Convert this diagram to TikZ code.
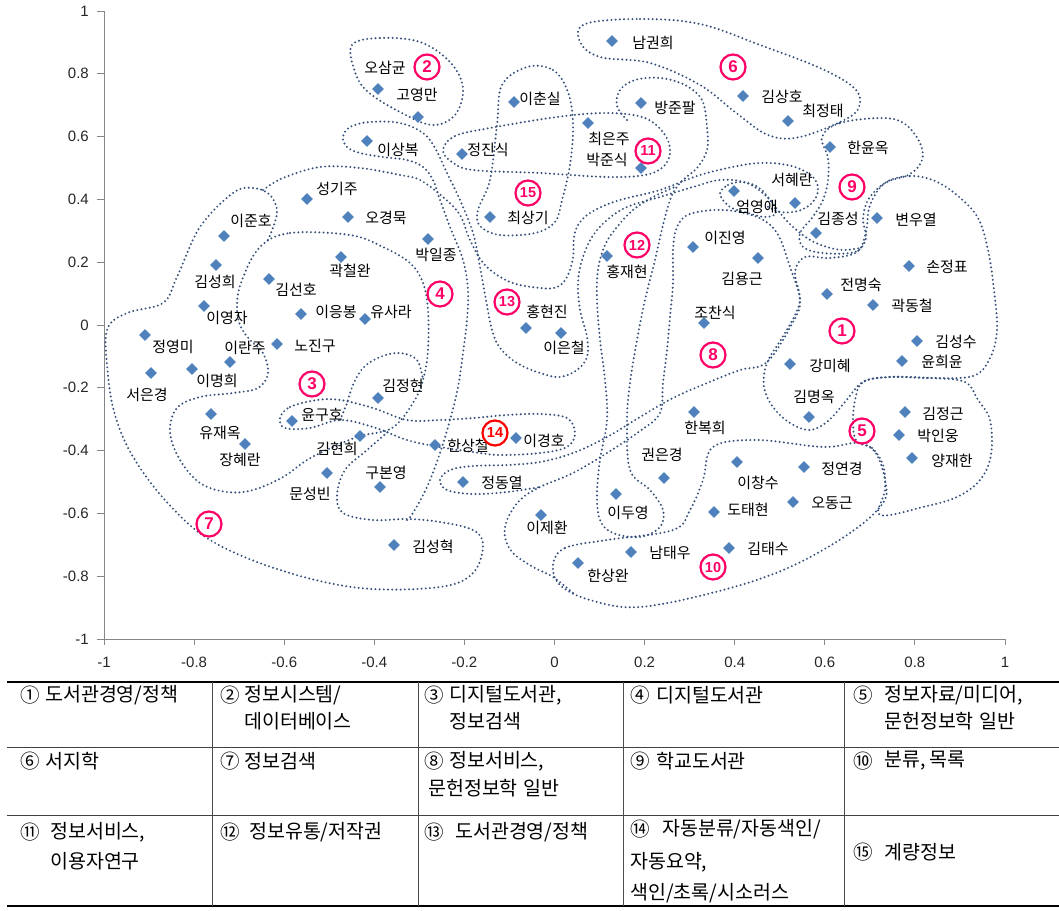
\documentclass[tikz,border=0pt]{standalone}
\usepackage{fontspec}
\setmainfont{Liberation Sans}
\newfontfamily\kr{Noto Sans CJK KR}
\usetikzlibrary{shapes.geometric}
\definecolor{dmc}{HTML}{4F81BD}
\definecolor{dotc}{HTML}{35507A}
\definecolor{rlc}{HTML}{FF0066}
\definecolor{axc}{HTML}{868686}
\tikzset{
 dmd/.style={diamond, fill=dmc, inner sep=0pt, minimum width=12pt, minimum height=12pt},
 lbl/.style={font=\kr\fontsize{15}{15}\selectfont, inner sep=0pt},
 rgn/.style={draw=dotc, line width=2.2pt, dash pattern=on 0pt off 4.2pt, line cap=round},
 rlab/.style={circle, draw=rlc, line width=2.2pt, text=rlc, minimum size=25pt, inner sep=0pt, font=\bfseries\fontsize{17}{17}\selectfont},
 rlabb/.style={rlab, font=\bfseries\fontsize{14.5}{14.5}\selectfont},
 ticklab/.style={font=\fontsize{15}{15}\selectfont, inner sep=0pt, text=black!85},
 cell/.style={font=\kr\fontsize{19.5}{26}\selectfont, anchor=west, inner sep=0pt},
}
\begin{document}
\begin{tikzpicture}[x=1pt,y=-1pt]
\useasboundingbox (0,0) rectangle (1059,910);
% axes
\draw[axc, line width=1pt] (104,11) -- (104,639) -- (1005,639);
\foreach \v/\yy in {1/11,0.8/73.8,0.6/136.6,0.4/199.4,0.2/262.2,0/325,-0.2/387.8,-0.4/450.6,-0.6/513.4,-0.8/576.2,-1/639}{
  \draw[axc, line width=1pt] (97,\yy) -- (104,\yy);
  \node[ticklab, anchor=east] (ya\v) at (89,\yy) {\v};
}
\foreach \v/\xx in {-1/104,-0.8/194.1,-0.6/284.2,-0.4/374.3,-0.2/464.4,0/554.5,0.2/644.6,0.4/734.7,0.6/824.8,0.8/914.9,1/1005}{
  \draw[axc, line width=1pt] (\xx,639) -- (\xx,645);
  \node[ticklab] (xa\v) at (\xx,662) {\v};
}
% region outlines
\draw[rgn] plot[smooth cycle, tension=0.6] coordinates {(352,45) (380,38) (420,42) (450,62) (463,88) (455,115) (432,125) (400,112) (368,92) (355,72)};
\draw[rgn] plot[smooth cycle, tension=0.6] coordinates {(585,24) (640,19) (700,24) (760,45) (820,68) (853,87) (860,103) (848,118) (800,137) (768,135) (735,112) (700,85) (650,63) (600,57) (580,42)};
\draw[rgn] plot[smooth cycle, tension=0.6] coordinates {(527,67) (553,70) (568,92) (573,125) (570,165) (562,200) (555,222) (535,233) (500,235) (480,226) (478,210) (490,180) (497,125) (502,85)};
\draw[rgn] plot[smooth cycle, tension=0.6] coordinates {(443,150) (455,136) (490,128) (557,117) (607,113) (645,118) (665,135) (670,153) (663,167) (645,175) (607,177) (540,173) (473,170) (452,162)};
\draw[rgn] plot[smooth cycle, tension=0.6] coordinates {(822,137) (840,123) (883,118) (905,124) (920,143) (922,160) (910,174) (885,183) (868,200) (863,220) (866,238) (855,252) (823,253) (803,247) (800,233) (812,218) (823,200) (828,180) (828,158)};
\draw[rgn] plot[smooth cycle, tension=0.6] coordinates {(720,194) (728,185) (742,182) (758,187) (770,200) (776,213) (765,217) (748,213) (730,207)};
\draw[rgn] plot[smooth cycle, tension=0.6] coordinates {(885,183) (910,176) (935,181) (958,196) (978,218) (988,250) (994,290) (997,330) (990,358) (973,376) (930,378) (890,377) (863,382) (845,402) (828,421) (810,430) (790,423) (773,407) (764,387) (767,363) (782,338) (795,315) (800,298) (795,272) (805,257) (830,258) (857,252) (866,232) (870,205)};
\draw[rgn] plot[smooth cycle, tension=0.6] coordinates {(857,442) (872,448) (883,465) (885,490) (880,515) (923,507) (957,497) (980,480) (991,455) (990,420) (978,400) (965,382) (930,378) (890,377) (863,382) (855,400) (853,425)};
\draw[rgn] plot[smooth cycle, tension=0.6] coordinates {(553,565) (565,548) (607,540) (673,530) (690,510) (703,480) (713,447) (757,440) (823,447) (857,443) (875,452) (885,480) (883,503) (850,533) (790,567) (723,590) (640,607) (590,600) (560,585)};
\draw[rgn] plot[smooth cycle, tension=0.6] coordinates {(280,418) (290,407) (317,400) (340,400) (373,408) (407,420) (440,420) (473,418) (507,415) (540,414) (567,418) (575,433) (567,447) (540,453) (500,455) (473,452) (440,447) (407,440) (373,427) (340,420) (310,428) (285,428)};
\draw[rgn] plot[smooth cycle, tension=0.6] coordinates {(260,247) (290,233) (350,235) (383,247) (410,263) (423,283) (428,310) (428,350) (423,380) (413,403) (392,428) (360,436) (333,447) (307,460) (283,477) (253,490) (227,492) (200,483) (180,460) (170,432) (177,408) (200,397) (233,393) (258,388) (268,373) (263,353) (250,340) (240,325) (237,305) (242,280)};
\draw[rgn] plot[smooth, tension=0.6] coordinates {(627,120) (617,106) (620,90) (635,80) (660,78) (685,85) (702,100) (707,127) (707,150) (697,168) (683,180) (672,195) (663,225) (655,260) (645,300) (637,340) (630,383) (627,420) (630,470) (650,490) (663,510) (660,527) (640,537) (613,533) (600,520) (597,495) (600,460) (607,420) (605,380) (600,340) (597,300) (598,270) (605,245) (617,227) (633,210) (653,197) (677,186)};
\draw[rgn] plot[smooth, tension=0.6] coordinates {(268,240) (277,213) (270,195) (253,188) (233,193) (200,227) (177,277) (163,303) (127,313) (107,330) (108,375) (115,415) (132,455) (165,500) (210,540) (280,570) (360,588) (440,587) (473,573) (483,545) (473,530) (440,522) (407,519) (373,520) (343,513) (337,495) (345,470) (367,450) (390,430)};
\draw[rgn] plot[smooth, tension=0.6] coordinates {(340,420) (347,403) (353,385) (363,368) (380,357) (400,353) (417,360) (423,380)};
\draw[rgn] plot[smooth, tension=0.6] coordinates {(263,190) (283,178) (320,167) (360,168) (400,175) (420,180) (443,197) (460,215) (470,240) (485,265) (510,282) (540,288) (557,287) (567,277) (573,258) (574,237) (580,222) (595,210) (620,200) (660,190) (700,175) (743,165) (770,163) (795,167) (813,177) (818,190) (812,203) (798,211) (780,212) (765,205)};
\draw[rgn] plot[smooth, tension=0.6] coordinates {(407,520) (413,513) (427,487) (440,453) (450,420) (458,387) (463,353) (467,320) (468,290) (463,260) (450,227) (440,200) (433,180) (423,167) (407,160) (383,157) (360,153) (347,147) (343,137) (350,127) (370,122) (400,123) (423,133) (435,148) (447,173) (460,200) (473,233) (480,267) (486,300) (492,330) (500,348) (517,363) (540,373) (560,377) (577,370) (587,357) (587,337) (580,310) (578,283) (582,260) (592,237) (607,220) (627,207) (660,197) (693,187) (720,180) (747,183) (767,197) (780,213) (793,227) (810,240) (827,247) (843,250) (860,248)};
\draw[rgn] plot[smooth, tension=0.6] coordinates {(573,593) (553,577) (533,567) (513,553) (505,537) (507,520) (520,500) (540,487) (573,473) (607,453) (640,431) (660,413) (663,383) (667,350) (670,317) (673,283) (673,250) (677,227) (690,214) (723,210) (757,217) (777,233) (790,267) (800,300) (793,322) (767,362) (740,370) (707,383) (673,398) (640,417) (607,437) (573,453) (540,462) (507,465) (473,466) (450,470) (440,480) (447,490) (473,494) (507,492) (540,487)};
% points
\foreach \n/\x/\y/\lx/\ly/\t in {
1/612/41/653/43/남권희, 2/378/89/385/68/오삼균, 3/418/117/417/95/고영만, 4/367/141/398/150/이상복,
5/514/102/540/99/이춘실, 6/462/154/488/150/정진식, 7/588/123/609/139/최은주, 8/641/168/607/160/박준식,
9/641/103/675/108/방준팔, 10/743/96/782/97/김상호, 11/788/121/823/111/최정태, 12/830/147/868/148/한윤옥,
13/795/203/792/180/서혜란, 14/734/191/757/207/엄영애, 15/816/233/838/219/김종성, 16/877/218/916/220/변우열,
17/490/217/528/218/최상기, 18/307/199/337/189/성기주, 19/348/217/386/218/오경묵, 20/224/236/251/221/이준호,
21/428/239/436/255/박일종, 22/341/257/350/271/곽철완, 23/216/265/215/282/김성희, 24/269/279/296/290/김선호,
25/204/306/227/318/이영자, 26/301/314/336/312/이응봉, 27/365/319/391/312/유사라, 28/145/335/173/347/정영미,
29/277/344/315/346/노진구, 30/230/362/245/348/이란주, 31/192/369/217/381/이명희, 32/151/373/147/395/서은경,
33/378/398/403/386/김정현, 34/292/421/322/415/윤구호, 35/211/414/220/433/유재옥, 36/245/444/240/460/장혜란,
37/360/436/337/449/김현희, 38/327/473/310/494/문성빈, 39/380/487/386/473/구본영, 40/435/445/468/446/한상철,
41/516/438/544/441/이경호, 42/463/482/502/483/정동열, 43/394/545/433/547/김성혁, 44/541/515/547/528/이제환,
45/526/328/547/312/홍현진, 46/561/333/564/348/이은철, 47/607/256/627/272/홍재현, 48/693/247/725/238/이진영,
49/758/258/742/279/김용근, 50/704/323/715/313/조찬식, 51/694/412/705/428/한복희, 52/664/478/662/455/권은경,
53/616/494/628/513/이두영, 54/631/552/670/553/남태우, 55/578/563/608/576/한상완, 56/729/548/768/549/김태수,
57/714/512/748/510/도태현, 58/737/462/758/483/이창수, 59/804/467/842/469/정연경, 60/793/502/832/503/오동근,
61/905/412/943/414/김정근, 62/899/435/938/436/박인웅, 63/912/458/952/461/양재한, 64/917/341/956/342/김성수,
65/902/361/942/362/윤희윤, 66/790/364/830/366/강미혜, 67/809/417/814/397/김명옥, 68/827/294/861/285/전명숙,
69/873/305/912/306/곽동철, 70/909/266/947/267/손정표}{
  \node[dmd] (d\n) at (\x,\y) {};
  \node[lbl] (l\n) at (\lx,\ly) {\t};
}
% region labels
\node[rlab] (r1) at (842,331) {1};
\node[rlab] (r2) at (427,67) {2};
\node[rlab] (r3) at (312,384) {3};
\node[rlab] (r4) at (440,294) {4};
\node[rlab] (r5) at (862,431) {5};
\node[rlab] (r6) at (733,67) {6};
\node[rlab] (r7) at (209,524) {7};
\node[rlab] (r8) at (713,355) {8};
\node[rlab] (r9) at (852,187) {9};
\node[rlabb] (r10) at (713,567) {10};
\node[rlabb] (r11) at (648,151) {11};
\node[rlabb] (r12) at (637,245) {12};
\node[rlabb] (r13) at (507,302) {13};
\node[rlabb, draw=red, text=red, fill=white] (r14) at (495,433) {14};
\node[rlabb] (r15) at (528,193) {15};
% table
\draw[line width=1.8pt] (7,682) -- (1059,682);
\draw[line width=0.9pt, black!75] (7,747) -- (1059,747) (7,815) -- (1059,815);
\draw[line width=1.5pt] (7,906) -- (1059,906);
\foreach \xx in {212,418,623,844} \draw[line width=0.9pt, black!70] (\xx,682) -- (\xx,906);
\node[cell] (n1) at (20,695) {①}; \node[cell] (t1) at (45,695) {도서관경영/정책};
\node[cell] (n2) at (220,695) {②}; \node[cell] (t2a) at (244,695) {정보시스템/}; \node[cell] (t2b) at (244,721) {데이터베이스};
\node[cell] (n3) at (424,695) {③}; \node[cell] (t3a) at (449,695) {디지털도서관,}; \node[cell] (t3b) at (449,721) {정보검색};
\node[cell] (n4) at (630,695) {④}; \node[cell] (t4) at (656,695) {디지털도서관};
\node[cell] (n5) at (853,695) {⑤}; \node[cell] (t5a) at (884,695) {정보자료/미디어,}; \node[cell] (t5b) at (884,721) {문헌정보학\hspace{6pt}일반};
\node[cell] (n6) at (20,761) {⑥}; \node[cell] (t6) at (45,761) {서지학};
\node[cell] (n7) at (220,761) {⑦}; \node[cell] (t7) at (244,761) {정보검색};
\node[cell] (n8) at (424,761) {⑧}; \node[cell] (t8a) at (449,761) {정보서비스,}; \node[cell] (t8b) at (428,788) {문헌정보학\hspace{6pt}일반};
\node[cell] (n9) at (630,761) {⑨}; \node[cell] (t9) at (656,761) {학교도서관};
\node[cell] (n10) at (853,761) {⑩}; \node[cell] (t10) at (884,761) {분류,\hspace{4pt}목록};
\node[cell] (n11) at (20,832) {⑪}; \node[cell] (t11a) at (50,832) {정보서비스,}; \node[cell] (t11b) at (50,861) {이용자연구};
\node[cell] (n12) at (220,832) {⑫}; \node[cell] (t12) at (249,832) {정보유통/저작권};
\node[cell] (n13) at (424,832) {⑬}; \node[cell] (t13) at (455,832) {도서관경영/정책};
\node[cell] (n14) at (630,829) {⑭}; \node[cell] (t14a) at (662,829) {자동분류/자동색인/}; \node[cell] (t14b) at (630,862) {자동요약,}; \node[cell] (t14c) at (630,893) {색인/초록/시소러스};
\node[cell] (n15) at (853,852) {⑮}; \node[cell] (t15) at (884,852) {계량정보};
\end{tikzpicture}
\end{document}
